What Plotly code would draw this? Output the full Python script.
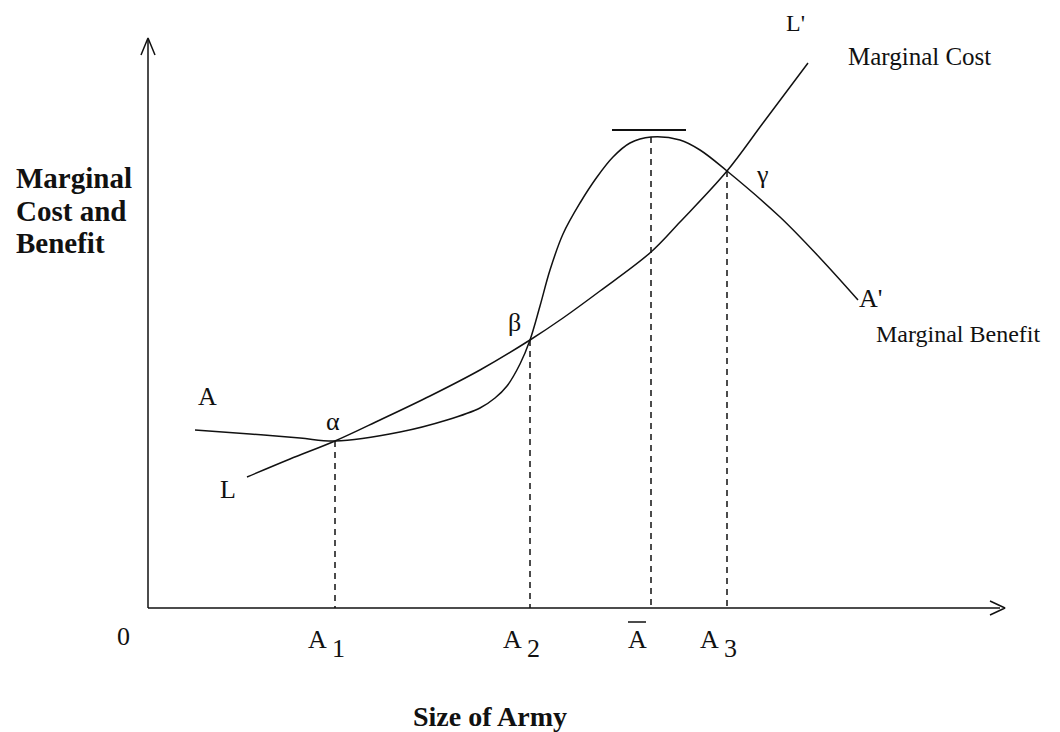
import plotly.graph_objects as go

# Data in a pixel-like coordinate system: x to the right of the y-axis, y above the x-axis
OX, OY = 148, 608
PAGE = 8  # default html body margin

def cx(p):
    return [v - OX for v in p]

def cy(p):
    return [OY - v for v in p]

# Marginal benefit curve (A -> A')
mb_x = [195, 250, 300, 335, 400, 447, 480, 495, 507, 520, 530, 540, 550, 563, 580, 597, 613, 630, 651, 680, 700, 727, 780, 820, 858]
mb_y = [430, 434, 438, 441, 432, 420, 408, 398, 386, 364, 340, 306, 270, 234, 203, 177, 157, 143, 137, 140, 150, 171, 217, 258, 300]
# Marginal cost curve (L -> L')
mc_x = [247, 290, 335, 380, 430, 480, 530, 563, 600, 651, 680, 727, 763, 808]
mc_y = [477, 459, 441, 420, 396, 370, 340, 318, 291, 252, 222, 171, 123, 63]
# Intersection / key points
key_x = [335, 530, 651, 727]
key_y = [441, 340, 137, 171]
key_base = ["A", "A", "A", "A"]
key_sub = ["1", "2", "", "3"]

BLK = "#111111"
fig = go.Figure()

fig.add_trace(go.Scatter(x=cx(mb_x), y=cy(mb_y), mode="lines", line=dict(color=BLK, width=1.5, shape="spline", smoothing=1.0), hoverinfo="skip"))
fig.add_trace(go.Scatter(x=cx(mc_x), y=cy(mc_y), mode="lines", line=dict(color=BLK, width=1.5, shape="spline", smoothing=1.0), hoverinfo="skip"))

# dashed verticals
for kx, ky in zip(key_x, key_y):
    fig.add_trace(go.Scatter(x=[kx - OX, kx - OX], y=[OY - ky, 0], mode="lines",
                             line=dict(color=BLK, width=1.5, dash="6px,5px"), hoverinfo="skip"))

# axes
fig.add_trace(go.Scatter(x=[0, 0, None, 0, 1000 - OX], y=[0, OY - 40, None, 0, 0], mode="lines",
                         line=dict(color=BLK, width=1.5), hoverinfo="skip"))
# arrow heads
fig.add_trace(go.Scatter(x=[-7, 0, 7, None, 990 - OX, 1005 - OX, 990 - OX],
                         y=[OY - 55, OY - 38, OY - 55, None, 7, 0, -7], mode="lines",
                         line=dict(color=BLK, width=1.5), hoverinfo="skip"))
# bar above the peak
fig.add_trace(go.Scatter(x=[612 - OX, 686 - OX], y=[OY - 130, OY - 130], mode="lines",
                         line=dict(color=BLK, width=2), hoverinfo="skip"))
# bar over A label
fig.add_trace(go.Scatter(x=[628 - OX, 646 - OX], y=[OY - 622, OY - 622], mode="lines",
                         line=dict(color=BLK, width=1.5), hoverinfo="skip"))

SERIF = "Liberation Serif, Times New Roman, serif"

def txt(px, py, s, size=18, bold=False, xanchor="center"):
    fig.add_annotation(x=px - OX, y=OY - py, text=(f"<b>{s}</b>" if bold else s), showarrow=False,
                       xanchor=xanchor, yanchor="middle",
                       font=dict(family=SERIF, size=size, color=BLK))

txt(207, 396, "A", 26)
txt(228, 489, "L", 26)
txt(333, 421, "α", 26)
txt(514, 322, "β", 26)
txt(762, 174, "γ", 26)
txt(795, 23, "L'", 24)
txt(846, 56, "Marginal Cost", 25, xanchor="left")
txt(870, 298, "A'", 26)
txt(874, 334, "Marginal Benefit", 24, xanchor="left")
txt(14, 178, "Marginal", 29, True, "left")
txt(14, 211, "Cost and", 29, True, "left")
txt(14, 243, "Benefit", 29, True, "left")
txt(123, 636, "0", 26)
for kx, b, s in zip(key_x, key_base, key_sub):
    if s:
        txt(kx - 18, 639, b, 26)
        txt(kx + 3, 648, s, 26)
    else:
        txt(kx - 14, 639, b, 26)
txt(490, 716, "Size of Army", 28, True)

fig.update_layout(
    width=1060, height=732, margin=dict(l=0, r=0, t=0, b=0),
    paper_bgcolor="white", plot_bgcolor="white", showlegend=False,
    xaxis=dict(range=[PAGE - OX, 1060 + PAGE - OX], visible=False, fixedrange=True),
    yaxis=dict(range=[OY - 732 - PAGE, OY - PAGE], visible=False, fixedrange=True),
)
fig.write_html("out.html")
